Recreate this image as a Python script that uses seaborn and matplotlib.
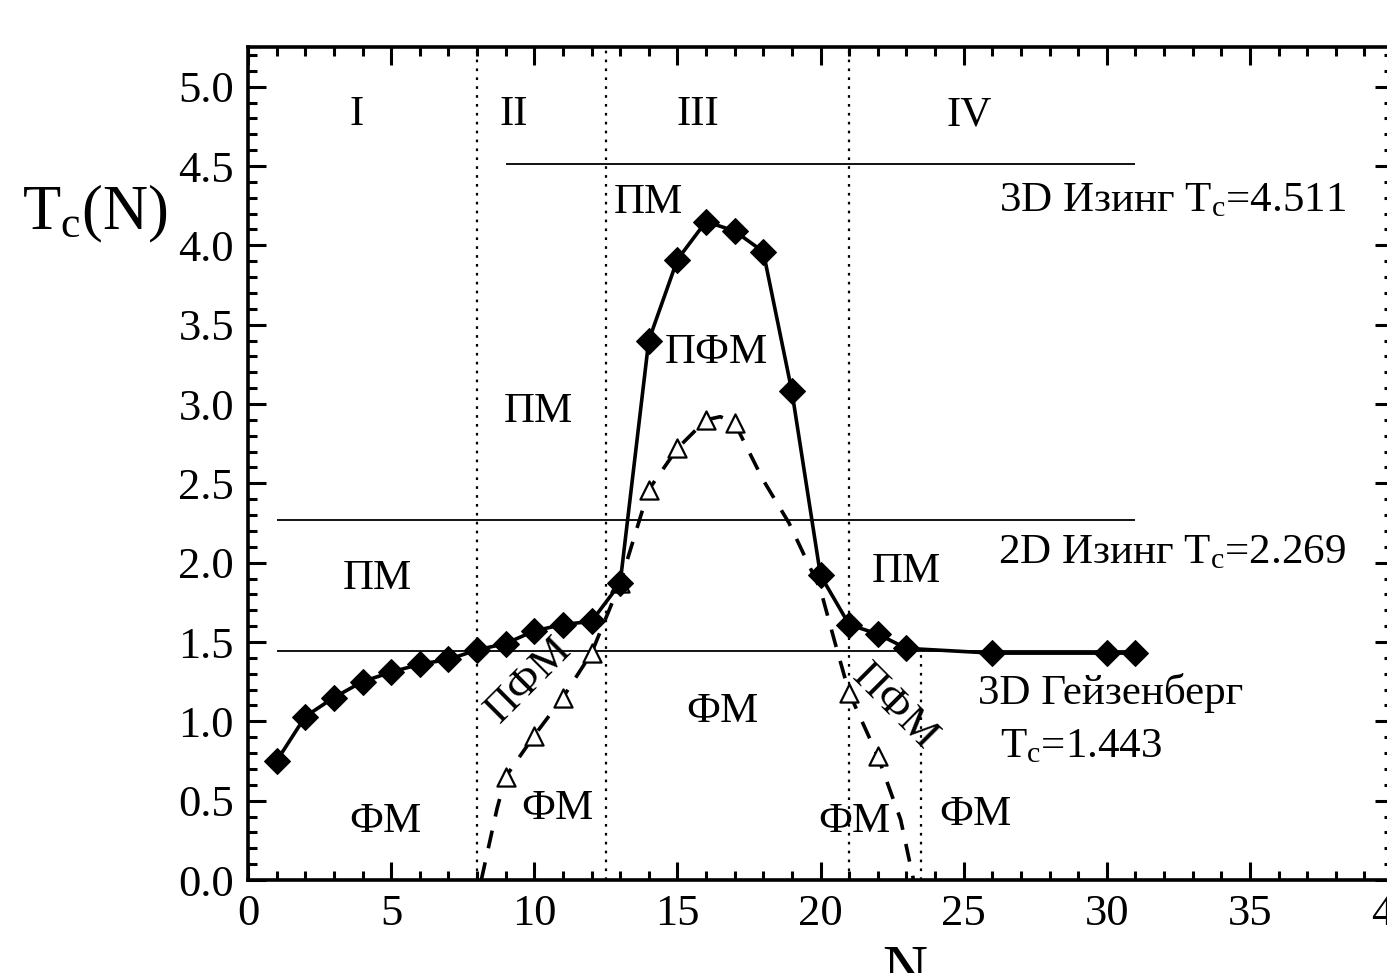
import matplotlib
matplotlib.use("Agg")
import matplotlib.pyplot as plt
import seaborn as sns
import numpy as np
import pandas as pd
from matplotlib.ticker import MultipleLocator

# ---- data ----
N_solid = [1, 2, 3, 4, 5, 6, 7, 8, 9, 10, 11, 12, 13, 14, 15, 16, 17, 18, 19, 20, 21, 22, 23, 26, 30, 31]
Tc_solid = [0.75, 1.03, 1.15, 1.25, 1.31, 1.36, 1.39, 1.45, 1.49, 1.57, 1.61, 1.63, 1.87, 3.40, 3.91,
            4.15, 4.09, 3.96, 3.08, 1.92, 1.61, 1.55, 1.46, 1.43, 1.43, 1.43]

N_tri = [9, 10, 11, 12, 13, 14, 15, 16, 17, 21, 22]
Tc_tri = [0.65, 0.91, 1.15, 1.43, 1.87, 2.46, 2.72, 2.90, 2.88, 1.18, 0.78]

# dashed guide curve
N_dash = [8.15, 8.7, 9, 10, 11, 12, 13, 14, 15, 16, 16.5, 17, 18, 18.9, 20, 20.5, 21, 22, 22.8, 23.25]
Tc_dash = [0.0, 0.45, 0.65, 0.91, 1.15, 1.43, 1.87, 2.46, 2.72, 2.90, 2.92, 2.88, 2.52, 2.25, 1.83, 1.50, 1.18, 0.78, 0.38, 0.0]

ref_names = ["3D Ising", "2D Ising", "3D Heisenberg"]
ref_Tc = [4.511, 2.269, 1.443]
ref_start = [9, 1, 1]
ref_end = [31, 31, 31]

region_bounds = [8, 12.5, 21]
heis_bound = 23.5
region_labels = ["I", "II", "III", "IV"]
region_label_x = [3.8, 9.3, 15.7, 25.2]

sns.set_theme(style="ticks")
plt.rcParams['font.family'] = ['Liberation Serif', 'DejaVu Serif']
plt.rcParams['mathtext.fontset'] = 'custom'
plt.rcParams['mathtext.rm'] = 'Liberation Serif'
plt.rcParams['mathtext.it'] = 'Liberation Serif'
plt.rcParams['text.color'] = 'black'
plt.rcParams['axes.labelcolor'] = 'black'
plt.rcParams['xtick.color'] = 'black'
plt.rcParams['ytick.color'] = 'black'

fig = plt.figure(figsize=(13.87, 9.73), dpi=100)
ax = fig.add_axes([248/1387, 93/973, 1145/1387, 833/973])

# reference horizontal lines
for t, s, e in zip(ref_Tc, ref_start, ref_end):
    ax.hlines(t, s, e, color='black', lw=1.3, zorder=1)

# vertical dotted region boundaries
for b in region_bounds:
    ax.axvline(b, color='black', ls=(0, (1.2, 2.8)), lw=1.6, zorder=1)
ax.vlines(heis_bound, 0, ref_Tc[2], color='black', ls=(0, (1.2, 2.8)), lw=1.6, zorder=1)

df_solid = pd.DataFrame({"N": N_solid, "Tc": Tc_solid})
df_dash = pd.DataFrame({"N": N_dash, "Tc": Tc_dash})
df_tri = pd.DataFrame({"N": N_tri, "Tc": Tc_tri})

sns.lineplot(data=df_dash, x="N", y="Tc", ax=ax, color='black', lw=2.6,
             linestyle=(0, (5, 4)), sort=False, zorder=2)
sns.scatterplot(data=df_tri, x="N", y="Tc", ax=ax, marker='^', s=170,
                facecolor='white', edgecolor='black', linewidth=1.6, zorder=3)
sns.lineplot(data=df_solid, x="N", y="Tc", ax=ax, color='black', lw=2.6,
             marker='D', markersize=13, markeredgecolor='black', sort=False, zorder=4)

ax.set_xlim(0, 40)
ax.set_ylim(0, 5.25)
ax.xaxis.set_major_locator(MultipleLocator(5))
ax.xaxis.set_minor_locator(MultipleLocator(1))
ax.yaxis.set_major_locator(MultipleLocator(0.5))
ax.yaxis.set_minor_locator(MultipleLocator(0.1))
ax.yaxis.set_major_formatter(matplotlib.ticker.FormatStrFormatter('%.1f'))
ax.tick_params(which='both', direction='in', top=True, right=True, width=2.2, labelsize=32,
               colors='black', labelcolor='black')
ax.tick_params(which='major', length=13, pad=10)
ax.tick_params(which='minor', length=6.5)
for sp in ax.spines.values():
    sp.set_linewidth(2.6)
    sp.set_color('black')
ax.set_xlabel("")
ax.set_ylabel("")

# axis labels
ax.text(-0.134, 0.80, r"T$_{\mathrm{c}}$(N)", transform=ax.transAxes, fontsize=45,
        ha='center', va='center', color='black')
ax.text(0.574, -0.078, "N", transform=ax.transAxes, fontsize=45, ha='center', va='top', color='black')

fs = 31
for lab, x in zip(region_labels, region_label_x):
    ax.text(x, 4.82, lab, fontsize=fs, ha='center', va='center', color='black')

texts = [
    ("ПМ", 13.99, 4.27, 0), ("ПФМ", 16.36, 3.32, 0), ("ПМ", 10.14, 2.95, 0),
    ("ПМ", 4.51, 1.90, 0), ("ПМ", 23.0, 1.94, 0), ("ПФМ", 9.8, 1.26, 45),
    ("ФМ", 16.57, 1.06, 0), ("ПФМ", 22.6, 1.09, -45), ("ФМ", 4.79, 0.37, 0),
    ("ФМ", 10.8, 0.45, 0), ("ФМ", 21.2, 0.37, 0), ("ФМ", 25.4, 0.41, 0),
]
for s, x, y, r in texts:
    ax.text(x, y, s, fontsize=fs, ha='center', va='center', rotation=r, color='black')

ax.text(38.36, 4.28, r"3D Изинг T$_{\mathrm{c}}$=4.511", fontsize=fs, ha='right', va='center', color='black')
ax.text(38.36, 2.06, r"2D Изинг T$_{\mathrm{c}}$=2.269", fontsize=fs, ha='right', va='center', color='black')
ax.text(25.5, 1.18, "3D Гейзенберг", fontsize=fs, ha='left', va='center', color='black')
ax.text(29.1, 0.84, r"T$_{\mathrm{c}}$=1.443", fontsize=fs, ha='center', va='center', color='black')

fig.savefig("out.png", dpi=100)
